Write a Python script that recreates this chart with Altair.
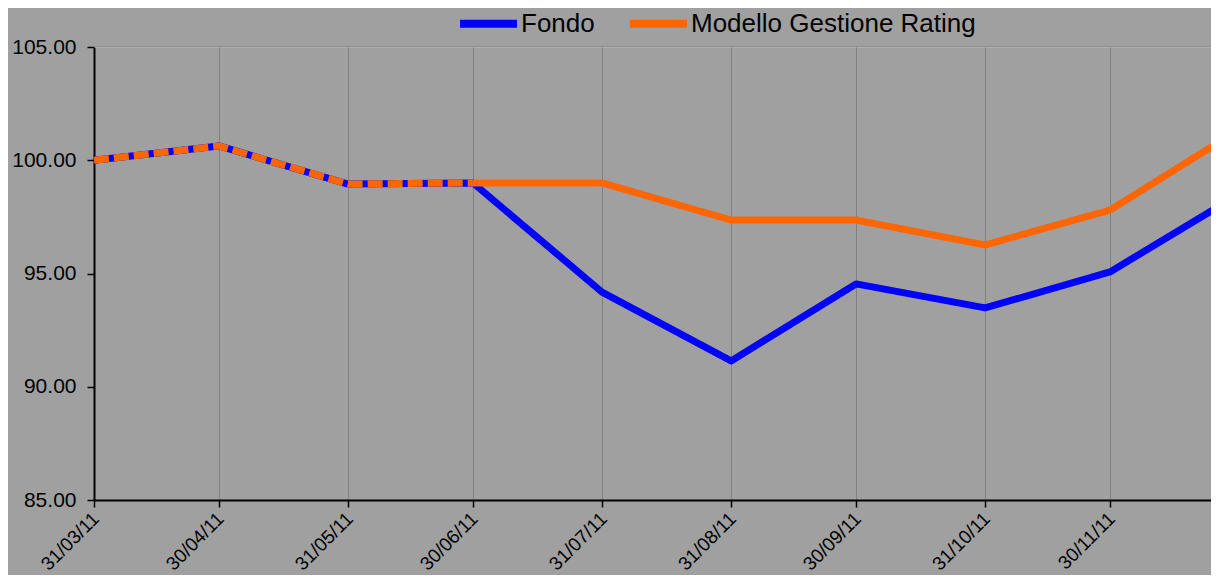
import altair as alt
import pandas as pd

# ---- data ----
dates = ["2011-03-31", "2011-04-30", "2011-05-31", "2011-06-30", "2011-07-31",
         "2011-08-31", "2011-09-30", "2011-10-31", "2011-11-30", "2011-12-31"]
fondo = [100.00, 100.63, 98.95, 99.00, 94.18, 91.14, 94.54, 93.48, 95.07, 98.50]
modello = [100.00, 100.63, 98.95, 99.00, 99.00, 97.36, 97.36, 96.26, 97.80, 101.35]
series_names = ["Fondo", "Modello Gestione Rating"]
series_colors = ["#0000FF", "#FF6600"]
tick_dates = dates[:9]
y_ticks = [85, 90, 95, 100, 105]
n_overlap = 4  # leading points where the two series coincide

rows = []
for d, v in zip(dates, fondo):
    rows.append({"date": d, "value": v, "series": series_names[0], "seg": "main"})
for i, (d, v) in enumerate(zip(dates, modello)):
    if i < n_overlap:
        rows.append({"date": d, "value": v, "series": series_names[1], "seg": "overlap"})
    if i >= n_overlap - 1:
        rows.append({"date": d, "value": v, "series": series_names[1], "seg": "main"})
df = pd.DataFrame(rows)

W, H = 1117, 453


def dt(s):
    y, m, d = s.split("-")
    return alt.DateTime(year=int(y), month=int(m), date=int(d), utc=True)


x_enc = alt.X(
    "date:T",
    scale=alt.Scale(type="utc", domain=[dt("2011-03-31"),
                                        alt.DateTime(year=2011, month=12, date=24, hours=6, utc=True)]),
    axis=alt.Axis(values=[dt(s) for s in tick_dates], format="%d/%m/%y",
                  labelAngle=-45, labelFontSize=19, labelPadding=2, labelOffset=-5, tickSize=7,
                  tickColor="#000000", tickWidth=1.5, domainColor="#000000", domainWidth=2,
                  grid=True, gridColor="#808080", gridWidth=1, title=None,
                  labelOverlap=False, labelFlush=False),
)
y_enc = alt.Y(
    "value:Q",
    scale=alt.Scale(domain=[85, 105], nice=False, zero=False),
    axis=alt.Axis(values=y_ticks, format=".2f", labelFontSize=21, labelPadding=11,
                  tickSize=7, tickColor="#000000", tickWidth=1.5, domainColor="#000000",
                  domainWidth=2, grid=False, title=None),
)
color_enc = alt.Color(
    "series:N",
    scale=alt.Scale(domain=series_names, range=series_colors),
    legend=alt.Legend(title=None, orient="none", direction="horizontal",
                      legendX=362, legendY=-56, symbolType="stroke", symbolSize=3249,
                      symbolStrokeWidth=8, labelFontSize=26, labelOffset=0,
                      columnPadding=19, padding=0, labelColor="#000000", labelLimit=500),
)

top_border = alt.Chart(pd.DataFrame({"a": [0]})).mark_rule(color="#808080", strokeWidth=1).encode(
    x=alt.value(0), x2=alt.value(W), y=alt.value(0)
)

blue = alt.Chart(df).transform_filter(alt.datum.series == series_names[0]).mark_line(
    strokeWidth=7, strokeCap="round", strokeJoin="round", clip=True
).encode(x=x_enc, y=y_enc, color=color_enc, order="date:T")

orange = alt.Chart(df).transform_filter(alt.datum.series == series_names[1]).mark_line(
    strokeWidth=7, strokeCap="butt", strokeJoin="round", clip=True
).encode(
    x=x_enc, y=y_enc, color=color_enc,
    strokeDash=alt.StrokeDash("seg:N", scale=alt.Scale(domain=["overlap", "main"], range=[[15, 5], [1, 0]]),
                              legend=None),
    detail="seg:N", order="date:T",
)

chart = alt.layer(top_border, blue, orange).properties(
    width=W, height=H,
    autosize=alt.AutoSizeParams(type="none"),
    padding={"left": 86, "top": 39, "right": 0, "bottom": 75},
    background="#A0A0A0",
).configure_view(stroke=None).configure(
    font="Liberation Sans"
).configure_axis(labelFont="Liberation Sans", labelColor="#000000").configure_legend(
    labelFont="Liberation Sans"
)

chart.save("out.html", embed_options={"renderer": "svg", "actions": False})
